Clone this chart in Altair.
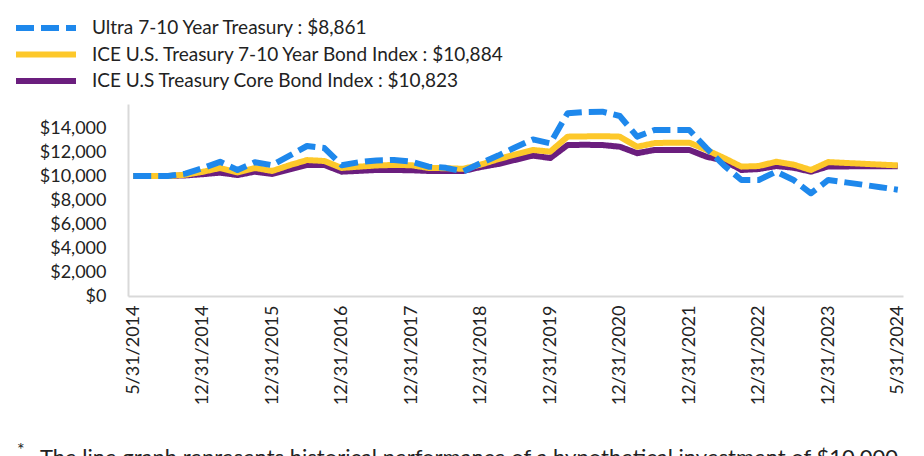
import altair as alt
import pandas as pd

series_names = [
    "Ultra 7-10 Year Treasury : $8,861",
    "ICE U.S. Treasury 7-10 Year Bond Index : $10,884",
    "ICE U.S Treasury Core Bond Index : $10,823",
]
series_colors = ["#1E88EC", "#FDC82A", "#6B1E7E"]

tick_labels = ["5/31/2014", "12/31/2014", "12/31/2015", "12/31/2016", "12/31/2017",
               "12/31/2018", "12/31/2019", "12/31/2020", "12/31/2021", "12/31/2022",
               "12/31/2023", "5/31/2024"]

ultra = [10000, 10000, 10000, 10200, 10650, 11180, 10500, 11150, 10900, 11700,
         12500, 12330, 10900, 11150, 11300, 11330, 11200, 10780, 10680, 10380,
         11080, 11700, 12400, 13050, 12720, 15230, 15330, 15360, 15000, 13280,
         13830, 13830, 13830, 12300, 10880, 9670, 9670, 10360, 9670, 8560,
         9670, 9470, 9270, 9070, 8861]
ice_710 = [10000, 10000, 10000, 10100, 10350, 10670, 10300, 10670, 10420, 10900,
           11330, 11250, 10670, 10780, 10880, 10920, 10900, 10670, 10650, 10600,
           10950, 11400, 11800, 12170, 12030, 13280, 13300, 13320, 13280, 12440,
           12740, 12780, 12780, 12170, 11500, 10780, 10830, 11190, 10950, 10500,
           11160, 11090, 11020, 10950, 10884]
ice_core = [10000, 10000, 10000, 10050, 10150, 10280, 10080, 10360, 10170, 10550,
            10920, 10920, 10360, 10430, 10500, 10500, 10480, 10420, 10420, 10420,
            10750, 11000, 11350, 11700, 11500, 12580, 12600, 12580, 12440, 11900,
            12170, 12170, 12170, 11600, 11300, 10500, 10580, 10830, 10690, 10360,
            10800, 10800, 10810, 10815, 10823]

footnote = "The line graph represents historical performance of a hypothetical investment of $10,000"

rows = []
for name, vals in zip(series_names, [ultra, ice_710, ice_core]):
    for i, v in enumerate(vals):
        rows.append({"i": i, "value": v, "series": name})
df = pd.DataFrame(rows)

n = len(ultra) - 1
label_positions = [k * 4 for k in range(len(tick_labels))]
label_array = "[" + ",".join("'" + s + "'" for s in tick_labels) + "]"

FONT = "Lato"

x_enc = alt.X("i:Q",
              scale=alt.Scale(domain=[-0.3, n + 0.3], nice=False, zero=False),
              axis=alt.Axis(values=label_positions,
                            labelExpr=label_array + "[round(datum.value/4)]",
                            labelAngle=270, labelAlign="right", labelBaseline="middle",
                            labelPadding=9, labelFontSize=18, title=None))
y_enc = alt.Y("value:Q",
              scale=alt.Scale(domain=[0, 16000], nice=False),
              axis=alt.Axis(values=list(range(0, 14001, 2000)), format="$,.0f",
                            labelPadding=22, labelFontSize=18, title=None))
color_enc = alt.Color("series:N",
                      scale=alt.Scale(domain=series_names, range=series_colors),
                      sort=series_names, title=None)
dash_enc = alt.StrokeDash("series:N",
                          scale=alt.Scale(domain=series_names, range=[[18, 7], [1, 0], [1, 0]]),
                          sort=series_names, title=None)

base = alt.Chart(df).mark_line(strokeWidth=6, strokeJoin="round").encode(
    x=x_enc, y=y_enc, color=color_enc, strokeDash=dash_enc
)

layers = [base.transform_filter(alt.datum.series == s) for s in reversed(series_names)]

note_df = pd.DataFrame({"t": [footnote]})
star = alt.Chart(pd.DataFrame({"t": ["*"]})).mark_text(
    font=FONT, fontSize=18, align="left", baseline="alphabetic", color="#222"
).encode(text="t:N", x=alt.value(-111), y=alt.value(352))
note = alt.Chart(note_df).mark_text(
    font=FONT, fontSize=22, align="left", baseline="alphabetic", color="#222"
).encode(text="t:N", x=alt.value(-88), y=alt.value(361))

chart = alt.layer(*layers, star, note).properties(
    width=775, height=192,
    padding={"left": 120, "top": 96, "right": 13, "bottom": 160},
    autosize=alt.AutoSizeParams(type="none"),
).configure_view(stroke=None).configure_axis(
    grid=False, ticks=False, domainColor="#d9d9d9", domainWidth=2,
    labelFont=FONT, labelColor="#222"
).configure_legend(
    orient="none", legendX=-95, legendY=-89, symbolType="M-3,0H3",
    symbolSize=400, symbolStrokeWidth=6, labelFont=FONT, labelFontSize=19,
    labelColor="#222", labelOffset=33, rowPadding=1.5, labelLimit=600
)

chart.save("out.html", embed_options={"renderer": "svg", "actions": False})
